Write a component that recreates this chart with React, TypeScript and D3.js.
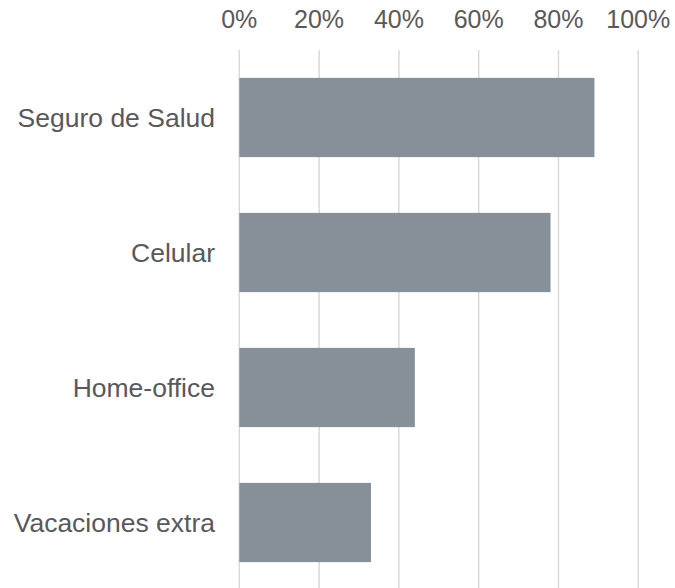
import React, { useRef, useEffect } from "react";
import * as d3 from "d3";

const categories = ["Seguro de Salud", "Celular", "Home-office", "Vacaciones extra"];
const values = [89, 78, 44, 33];
const tickValues = [0, 20, 40, 60, 80, 100];

const width = 675;
const height = 588;

export default function App() {
  const svgRef = useRef<SVGSVGElement>(null);

  useEffect(() => {
    if (!svgRef.current) return;
    const svg = d3.select(svgRef.current);
    svg.selectAll("*").remove();

    const x = d3.scaleLinear().domain([0, 100]).range([239.3, 638.3]);
    const y = d3
      .scaleBand<string>()
      .domain(categories)
      .range([50, 590])
      .paddingInner(0.413)
      .paddingOuter(0.2065);

    const font = "'Liberation Sans', Arial, sans-serif";
    const textColor = "#595959";

    // gridlines
    svg
      .append("g")
      .selectAll("line")
      .data(tickValues)
      .enter()
      .append("line")
      .attr("x1", (d) => x(d))
      .attr("x2", (d) => x(d))
      .attr("y1", 50)
      .attr("y2", height)
      .attr("stroke", "#d9d9d9")
      .attr("stroke-width", 1.5);

    // tick labels on top
    svg
      .append("g")
      .selectAll("text")
      .data(tickValues)
      .enter()
      .append("text")
      .attr("x", (d) => x(d))
      .attr("y", 27.5)
      .attr("text-anchor", "middle")
      .attr("font-family", font)
      .attr("font-size", 25)
      .attr("fill", textColor)
      .text((d) => `${d}%`);

    // bars
    svg
      .append("g")
      .selectAll("rect")
      .data(values)
      .enter()
      .append("rect")
      .attr("x", x(0))
      .attr("y", (d, i) => y(categories[i])!)
      .attr("width", (d) => x(d) - x(0))
      .attr("height", y.bandwidth())
      .attr("fill", "#878f99");

    // category labels
    svg
      .append("g")
      .selectAll("text")
      .data(categories)
      .enter()
      .append("text")
      .attr("x", 215)
      .attr("y", (d) => y(d)! + y.bandwidth() / 2)
      .attr("dy", "0.35em")
      .attr("text-anchor", "end")
      .attr("font-family", font)
      .attr("font-size", 26.5)
      .attr("fill", textColor)
      .text((d) => d);
  }, []);

  return (
    <svg
      ref={svgRef}
      width={width}
      height={height}
      style={{ position: "absolute", left: 0, top: 0, background: "#fff" }}
    />
  );
}
